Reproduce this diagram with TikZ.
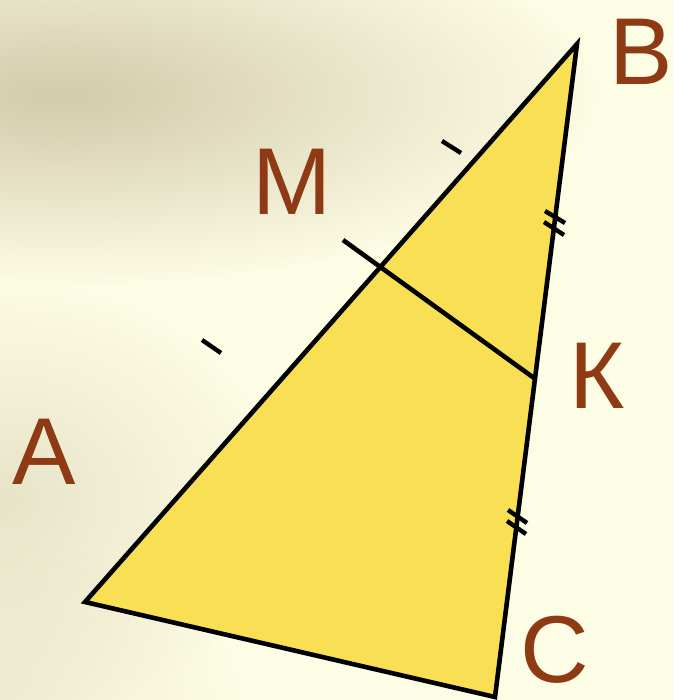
\documentclass[tikz,border=0pt]{standalone}
\usepackage{fontspec}
\setmainfont{Liberation Sans}
\usetikzlibrary{fadings}
\definecolor{paper}{RGB}{253,252,228}
\definecolor{smudge}{RGB}{210,203,172}
\definecolor{trifill}{RGB}{249,223,83}
\definecolor{labelbrown}{RGB}{142,58,20}
\tikzfading[name=softblob, inner color=transparent!0, outer color=transparent!100]
\tikzset{
  side/.style={line width=4.6pt,line join=miter},
  tick/.style={line width=4.4pt},
  blob/.style={fill=smudge,path fading=softblob,fit fading=true},
  vlabel/.style={text=labelbrown,inner sep=0pt,font=\fontsize{95}{95}\selectfont}
}
\begin{document}
\begin{tikzpicture}[x=1pt,y=-1pt]
  \useasboundingbox (0,0) rectangle (673,700);
  % background
  \fill[paper] (0,0) rectangle (673,700);
  \fill[blob] (60,95) ellipse (540 and 190);
  \fill[blob,opacity=.5] (0,500) ellipse (280 and 220);
  \fill[blob,opacity=.3] (0,700) ellipse (240 and 160);
  % vertices
  \coordinate (A) at (85,602);
  \coordinate (B) at (577,44);
  \coordinate (C) at (495,697);
  \coordinate (M) at (380,267);
  \coordinate (K) at (534,378);
  \coordinate (Mx) at (343,240);
  \fill[trifill] (A)--(B)--(C)--cycle;
  \draw[side] (Mx)--(K);
  \draw[side] (A)--(B)--(C)--cycle;
  % equal marks
  \draw[tick] (202,340)--(221,353);
  \draw[tick] (442,141)--(461,153);
  \draw[tick] (545,211)--(565,223); \draw[tick] (544,222)--(564,235);
  \draw[tick] (508,510)--(527,523); \draw[tick] (507,521)--(526,534);
  % labels
  \node[vlabel] (lA) at (44,452) {A};
  \node[vlabel] (lB) at (641,52) {B};
  \node[vlabel] (lC) at (555,650) {C};
  \node[vlabel] (lM) at (292,182) {M};
  \node[vlabel] (lK) at (597,376) {К};
\end{tikzpicture}
\end{document}
